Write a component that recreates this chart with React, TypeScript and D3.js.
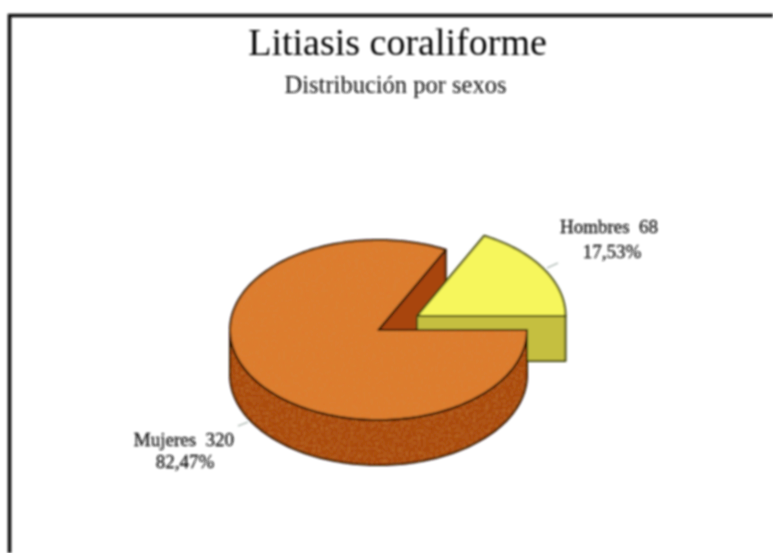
import React from "react";
import * as d3 from "d3";

const categories = ["Mujeres", "Hombres"];
const counts = [320, 68];
const percentLabels = ["82,47%", "17,53%"];
const topColors = ["#de7a2e", "#f6f65c"];
const sideColors = ["#a8440f", "#c5bf3f"];
const edgeColors = ["#2e1204", "#3d4208"];

const W = 773, H = 553;
const RX = 148.5, RY = 90, DEPTH = 45;
const center = { x: 378.5, y: 330 };
const explode = [{ x: 0, y: 0 }, { x: 38.5, y: -14 }];

const pieGen = d3.pie<number>().sort(null).startAngle(Math.PI / 2).endAngle(Math.PI * 2.5);
const slices = pieGen(counts);

const px = (a: number) => RX * Math.sin(a);
const py = (a: number) => -RY * Math.cos(a);
const line = d3.line<[number, number]>();

function rim(a0: number, a1: number): [number, number][] {
  const n = Math.max(2, Math.ceil(Math.abs(a1 - a0) * 40));
  return d3.range(n + 1).map((i) => {
    const a = a0 + ((a1 - a0) * i) / n;
    return [px(a), py(a)] as [number, number];
  });
}
const topPath = (a0: number, a1: number) => line([[0, 0], ...rim(a0, a1)]) + "Z";
function wallPath(a0: number, a1: number) {
  const upper = rim(a0, a1);
  const lower = upper.map(([x, y]) => [x, y + DEPTH] as [number, number]).reverse();
  return line([...upper, ...lower]) + "Z";
}
const cutPath = (a: number) =>
  line([[0, 0], [px(a), py(a)], [px(a), py(a) + DEPTH], [0, DEPTH]]) + "Z";

const m = slices[0], h = slices[1];
const frontStart = Math.PI / 2, frontEnd = Math.PI * 1.5;

export default function App() {
  const sw = 2;
  return (
    <svg width={W} height={H} viewBox={`0 0 ${W} ${H}`} style={{ position: "absolute", left: 0, top: 0, background: "#fff" }}>
      <defs>
        <filter id="soft" x="-5%" y="-5%" width="110%" height="110%">
          <feGaussianBlur stdDeviation="0.85" />
        </filter>
        <filter id="grain" x="0" y="0" width="100%" height="100%">
          <feTurbulence type="fractalNoise" baseFrequency="0.4" numOctaves="2" seed="4" />
          <feColorMatrix type="matrix" values="0 0 0 0 0.62  0 0 0 0 0.27  0 0 0 0 0.05  0 0 0 1.2 -0.5" />
          <feComposite in2="SourceAlpha" operator="in" />
          <feMerge><feMergeNode in="SourceGraphic" /><feMergeNode /></feMerge>
        </filter>
      </defs>
      <g filter="url(#soft)">
        <path d={`M9.5 553V15.5H773`} fill="none" stroke="#111" strokeWidth={3.6} />
        <text x={397.5} y={55} textAnchor="middle" fontFamily="Liberation Serif" fontSize={38} fill="#000">Litiasis coraliforme</text>
        <text x={395.5} y={93} textAnchor="middle" fontFamily="Liberation Serif" fontSize={24.5} fill="#111">Distribución por sexos</text>

        <g transform={`translate(${center.x},${center.y})`}>
          <path d={cutPath(m.endAngle)} fill={sideColors[0]} stroke={edgeColors[0]} strokeWidth={sw} strokeLinejoin="round" />
        </g>
        <g transform={`translate(${center.x + explode[1].x},${center.y + explode[1].y})`}>
          <path d={line([[0, 0], [RX, 0], [RX, DEPTH], [0, DEPTH]]) + "Z"} fill={sideColors[1]} stroke={edgeColors[1]} strokeWidth={sw} strokeLinejoin="round" />
          <path d={topPath(h.startAngle, h.endAngle)} fill={topColors[1]} stroke={edgeColors[1]} strokeWidth={sw} strokeLinejoin="round" />
        </g>
        <g transform={`translate(${center.x},${center.y})`}>
          <path d={wallPath(frontStart, frontEnd)} fill={sideColors[0]} filter="url(#grain)" />
          <path d={wallPath(frontStart, frontEnd)} fill="none" stroke={edgeColors[0]} strokeWidth={sw} strokeLinejoin="round" />
          <path d={topPath(m.startAngle, m.endAngle)} fill={topColors[0]} filter="url(#grain)" />
          <path d={topPath(m.startAngle, m.endAngle)} fill="none" stroke={edgeColors[0]} strokeWidth={sw} strokeLinejoin="round" />
        </g>

        <path d="M547 268L558 263" stroke="#9aa8a0" strokeWidth={1.2} fill="none" />
        <path d="M238 426L248 422" stroke="#9aa8a0" strokeWidth={1.2} fill="none" />

        <g fontFamily="Liberation Serif" fontSize={19} fill="#111" stroke="#111" strokeWidth={0.3} textAnchor="middle">
          <text x={609} y={233} xmlSpace="preserve">{`${categories[1]}  ${counts[1]}`}</text>
          <text x={612} y={258}>{percentLabels[1]}</text>
          <text x={184} y={446} xmlSpace="preserve">{`${categories[0]}  ${counts[0]}`}</text>
          <text x={185} y={468}>{percentLabels[0]}</text>
        </g>
      </g>
    </svg>
  );
}
